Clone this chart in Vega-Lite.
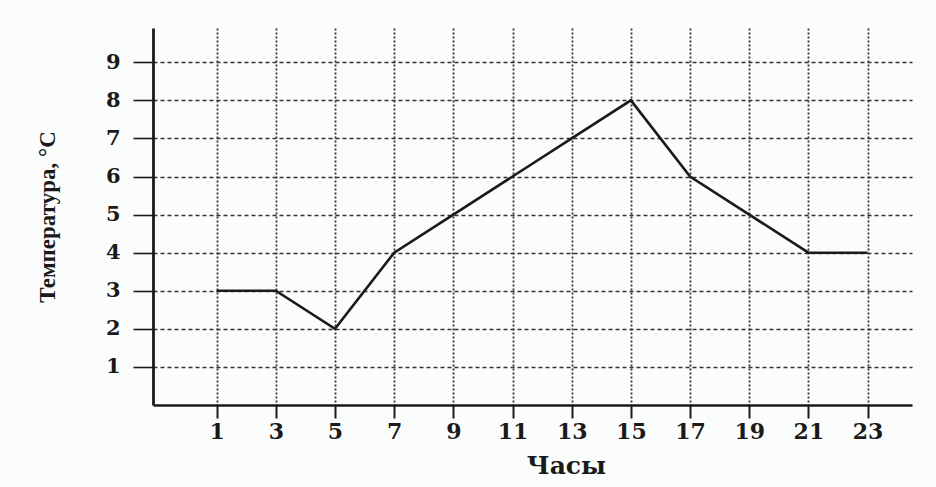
{
  "$schema": "https://vega.github.io/schema/vega-lite/v6.json",
  "autosize": "none",
  "padding": {"left": 153, "top": 28, "right": 24, "bottom": 82},
  "width": 759,
  "height": 377,
  "background": "#fbfdfd",
  "config": {"view": {"stroke": null}},
  "data": {"values": [
    {"hour": 1, "temp": 3},
    {"hour": 3, "temp": 3},
    {"hour": 5, "temp": 2},
    {"hour": 7, "temp": 4},
    {"hour": 9, "temp": 5},
    {"hour": 11, "temp": 6},
    {"hour": 13, "temp": 7},
    {"hour": 15, "temp": 8},
    {"hour": 17, "temp": 6},
    {"hour": 19, "temp": 5},
    {"hour": 21, "temp": 4},
    {"hour": 23, "temp": 4}
  ]},
  "mark": {"type": "line", "color": "#1a1a1a", "strokeWidth": 2.6},
  "encoding": {
    "x": {
      "field": "hour", "type": "quantitative",
      "scale": {"domain": [-1.15, 24.5], "nice": false, "zero": false},
      "axis": {
        "values": [1,3,5,7,9,11,13,15,17,19,21,23],
        "title": "Часы",
        "titleFont": "DejaVu Serif", "titleFontSize": 25, "titleFontWeight": "bold", "titleColor": "#1a1a1a",
        "titlePadding": 11, "titleX": 413,
        "labelFont": "DejaVu Serif", "labelFontSize": 22, "labelFontWeight": "bold", "labelColor": "#1a1a1a",
        "labelPadding": 3,
        "domainColor": "#1a1a1a", "domainWidth": 2.6,
        "tickColor": "#1a1a1a", "tickWidth": 2, "tickSize": 13,
        "grid": true, "gridColor": "#333333", "gridWidth": 1.8, "gridDash": [2, 2]
      }
    },
    "y": {
      "field": "temp", "type": "quantitative",
      "scale": {"domain": [0, 9.9], "nice": false},
      "axis": {
        "values": [1,2,3,4,5,6,7,8,9],
        "title": "Температура, °С",
        "titleFont": "Liberation Serif", "titleFontSize": 23, "titleFontWeight": "bold", "titleColor": "#1a1a1a",
        "titlePadding": 46,
        "labelFont": "DejaVu Serif", "labelFontSize": 21, "labelFontWeight": "bold", "labelColor": "#1a1a1a",
        "labelPadding": 13,
        "domainColor": "#1a1a1a", "domainWidth": 2.8,
        "tickColor": "#1a1a1a", "tickWidth": 1.6, "tickSize": 20,
        "grid": true, "gridColor": "#333333", "gridWidth": 1.5, "gridDash": [4, 3]
      }
    }
  }
}
